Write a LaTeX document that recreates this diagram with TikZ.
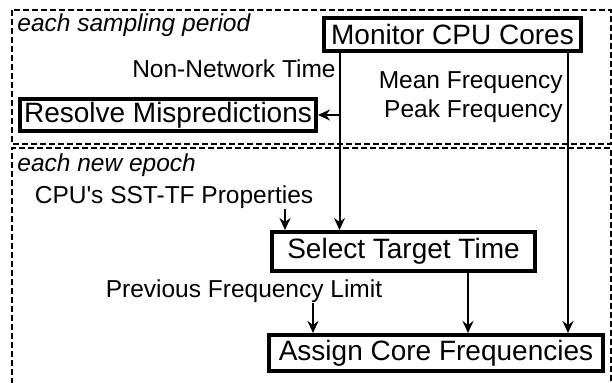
\documentclass[tikz,border=0pt]{standalone}
\usepackage{fontspec}
\setmainfont{Liberation Sans}
\usetikzlibrary{arrows.meta,positioning}

\begin{document}
\begin{tikzpicture}[x=0.5pt, y=-0.5pt,
    box/.style={draw, line width=2pt, inner sep=0pt, font=\fontsize{14}{16}\selectfont},
    lbl/.style={inner sep=0pt, font=\fontsize{12.25}{13.5}\selectfont},
    frame/.style={draw, line width=0.75pt, dash pattern=on 3pt off 1.5pt},
    flow/.style={line width=1pt, -{Stealth[length=6pt, width=5.5pt, inset=2pt]}}]

    \useasboundingbox (0,0) rectangle (612,383);

    \draw[frame] (12,10) rectangle (611,144);
    \draw[frame] (12,384) -- (12,148) -- (611,148) -- (611,384);
    \node[lbl, anchor=base west, font=\fontsize{12.25}{13.5}\selectfont\itshape] (period_label) at (17,31.5) {each sampling period};
    \node[lbl, anchor=base west, font=\fontsize{12.25}{13.5}\selectfont\itshape] (epoch_label) at (17,172) {each new epoch};

    \node[box, minimum width=128.5pt, minimum height=16.5pt] (monitor) at (452.5,34.5) {Monitor CPU Cores};
    \node[box, minimum width=148pt, minimum height=16pt] (resolve) at (168,115) {Resolve Mispredictions};
    \node[box, minimum width=131.5pt, minimum height=19.5pt] (select) at (403.5,251.5) {Select Target Time};
    \node[box, minimum width=167pt, minimum height=18pt] (assign) at (436,353) {Assign Core Frequencies};

    \node[lbl, anchor=base east] (nonnet_label) at (336,77.5) {Non-Network Time};
    \node[lbl, anchor=base east] (mean_label) at (563,89) {Mean Frequency};
    \node[lbl, anchor=base east] (peak_label) at (563,117.5) {Peak Frequency};
    \node[lbl, anchor=base] (sst_label) at (174,203.5) {CPU\textquotesingle s SST-TF Properties};
    \node[lbl, anchor=base] (prev_label) at (244,298) {Previous Frequency Limit};

    \coordinate (tap1) at (339.5,0);
    \coordinate (tap2) at (568,0);
    \coordinate (tap3) at (285,0);
    \coordinate (tap4) at (313,0);
    \coordinate (tap5) at (468,0);

    \draw[flow] (monitor.south -| tap1) -- (select.north -| tap1);
    \draw[flow] (resolve.east -| tap1) -- (resolve.east);
    \draw[flow] (monitor.south -| tap2) -- (assign.north -| tap2);
    \draw[flow] (sst_label.south -| tap3) -- (select.north -| tap3);
    \draw[flow] (prev_label.south -| tap4) -- (assign.north -| tap4);
    \draw[flow] (select.south -| tap5) -- (assign.north -| tap5);

\end{tikzpicture}
\end{document}
